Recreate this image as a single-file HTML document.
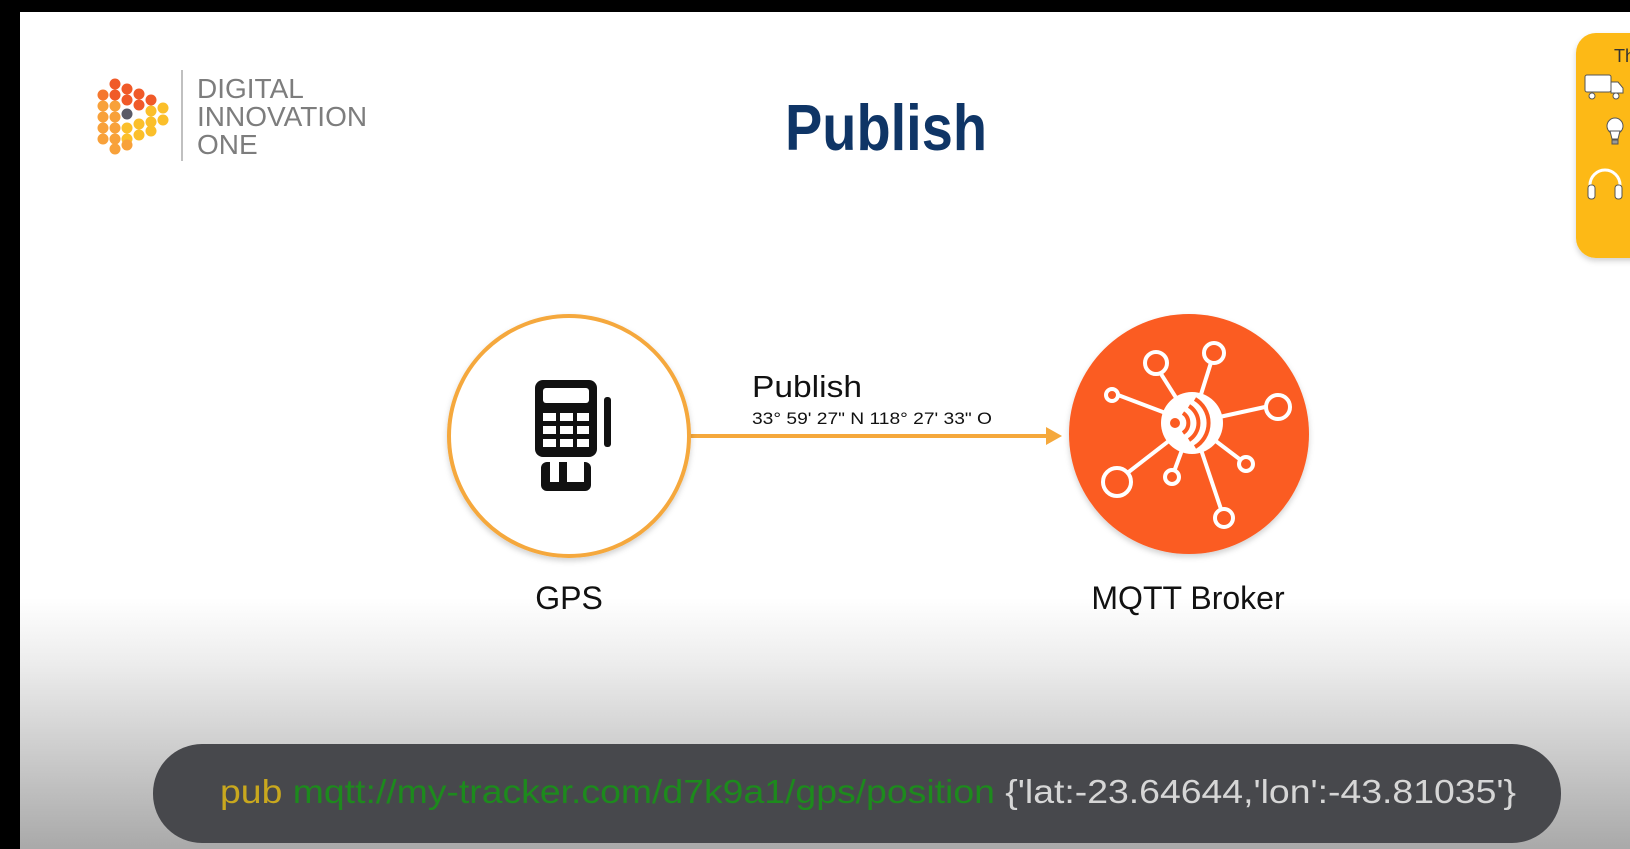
<!DOCTYPE html>
<html><head><meta charset="utf-8"><style>
html,body{margin:0;padding:0;width:1630px;height:849px;overflow:hidden;background:#000}
svg{display:block}
text{font-family:"Liberation Sans",sans-serif}
</style></head><body>
<svg width="1630" height="849" viewBox="0 0 1630 849" xmlns="http://www.w3.org/2000/svg">
<defs>
<linearGradient id="bg" x1="0" y1="0" x2="0" y2="1">
<stop offset="0" stop-color="#ffffff"/>
<stop offset="0.7" stop-color="#ffffff"/>
<stop offset="0.78" stop-color="#ececec"/>
<stop offset="1" stop-color="#a9a9a9"/>
</linearGradient>
<filter id="sh" x="-20%" y="-20%" width="140%" height="140%"><feDropShadow dx="0" dy="3" stdDeviation="3" flood-color="#000" flood-opacity="0.18"/></filter>
</defs>
<rect x="20" y="12" width="1610" height="837" fill="url(#bg)"/>
<g>
<circle cx="103" cy="95" r="5.5" fill="#f5772e"/><circle cx="103" cy="106" r="5.5" fill="#f8a13a"/><circle cx="103" cy="117" r="5.5" fill="#f8a13a"/><circle cx="103" cy="128" r="5.5" fill="#f8a13a"/><circle cx="103" cy="139" r="5.5" fill="#f8a13a"/>
<circle cx="115" cy="84" r="5.5" fill="#f05a28"/><circle cx="115" cy="95" r="5.5" fill="#f05a28"/><circle cx="115" cy="106" r="5.5" fill="#f8a13a"/><circle cx="115" cy="117" r="5.5" fill="#f8a13a"/><circle cx="115" cy="128" r="5.5" fill="#f8a13a"/><circle cx="115" cy="139" r="5.5" fill="#f8a13a"/><circle cx="115" cy="149" r="5.5" fill="#f8a13a"/>
<circle cx="127" cy="89" r="5.5" fill="#f05a28"/><circle cx="127" cy="100" r="5.5" fill="#f05a28"/><circle cx="127" cy="114" r="5.5" fill="#5a5a66"/><circle cx="127" cy="128" r="5.5" fill="#fbbf2a"/><circle cx="127" cy="139" r="5.5" fill="#fbbf2a"/><circle cx="127" cy="145" r="5.5" fill="#f8a13a"/>
<circle cx="139" cy="94" r="5.5" fill="#f05a28"/><circle cx="139" cy="105" r="5.5" fill="#f05a28"/><circle cx="139" cy="124" r="5.5" fill="#fbbf2a"/><circle cx="139" cy="135" r="5.5" fill="#fbbf2a"/>
<circle cx="151" cy="100" r="5.5" fill="#f05a28"/><circle cx="151" cy="111" r="5.5" fill="#fbbf2a"/><circle cx="151" cy="122" r="5.5" fill="#fbbf2a"/><circle cx="151" cy="131" r="5.5" fill="#fbbf2a"/>
<circle cx="163" cy="108" r="5.5" fill="#fbbf2a"/><circle cx="163" cy="120" r="5.5" fill="#fbbf2a"/>
</g>
<line x1="182" y1="70" x2="182" y2="161" stroke="#aaa" stroke-width="1.5"/>
<g fill="#7d7d7d" font-size="28">
<text x="197" y="98">DIGITAL</text>
<text x="197" y="126">INNOVATION</text>
<text x="197" y="154">ONE</text>
</g>
<text x="785" y="150" font-size="65" font-weight="bold" fill="#0f3566" textLength="202" lengthAdjust="spacingAndGlyphs">Publish</text>
<rect x="1576" y="33" width="80" height="225" rx="20" fill="#fdb913" filter="url(#sh)"/>
<text x="1614" y="62" font-size="18" fill="#333">Th</text>
<g fill="#fff" stroke="#555" stroke-width="1">
<rect x="1585" y="75" width="26" height="17" rx="2"/><path d="M1611 82h7l5 6v5h-12z"/>
<circle cx="1592" cy="96" r="3"/><circle cx="1616" cy="96" r="3"/>
<circle cx="1615" cy="126" r="8"/><path d="M1610 131h10l-2 8h-6z"/><rect x="1612" y="140" width="6" height="4" fill="#999"/>
<path d="M1590 195v-10a15 15 0 0 1 30 0v10" fill="none" stroke="#fff" stroke-width="3"/>
<rect x="1588" y="185" width="7" height="14" rx="3"/><rect x="1615" y="185" width="7" height="14" rx="3"/>
</g>
<line x1="690" y1="436" x2="1052" y2="436" stroke="#f5a83c" stroke-width="4"/>
<path d="M1046 427 L1062 436 L1046 445 Z" fill="#f5a83c"/>
<text x="752" y="397" font-size="31" fill="#111" textLength="110" lengthAdjust="spacingAndGlyphs">Publish</text>
<text x="752" y="424" font-size="17" fill="#111" textLength="240" lengthAdjust="spacingAndGlyphs">33° 59' 27" N 118° 27' 33" O</text>
<circle cx="569" cy="436" r="120" fill="#fff" stroke="#f5a83c" stroke-width="4" filter="url(#sh)"/>
<g fill="#111">
<rect x="535" y="380" width="62" height="77" rx="8"/>
<rect x="604" y="397" width="7" height="50" rx="3"/>
<rect x="541" y="462" width="50" height="29" rx="6"/>
</g>
<g fill="#fff">
<rect x="543" y="388" width="46" height="15" rx="3"/>
<rect x="543" y="413" width="13" height="8"/><rect x="560" y="413" width="13" height="8"/><rect x="577" y="413" width="12" height="8"/>
<rect x="543" y="426" width="13" height="8"/><rect x="560" y="426" width="13" height="8"/><rect x="577" y="426" width="12" height="8"/>
<rect x="543" y="439" width="13" height="8"/><rect x="560" y="439" width="13" height="8"/><rect x="577" y="439" width="12" height="8"/>
<rect x="550" y="460" width="9" height="22"/><rect x="567" y="460" width="17" height="22"/>
</g>
<text x="569" y="609" font-size="32" fill="#111" text-anchor="middle">GPS</text>
<circle cx="1189" cy="434" r="120" fill="#fb5b22" filter="url(#sh)"/>
<g stroke="#fff" stroke-width="4" fill="none">
<line x1="1192" y1="423" x2="1156" y2="366"/><line x1="1192" y1="423" x2="1214" y2="353"/>
<line x1="1192" y1="423" x2="1118" y2="395"/><line x1="1192" y1="423" x2="1265" y2="407"/>
<line x1="1192" y1="423" x2="1117" y2="481"/><line x1="1192" y1="423" x2="1172" y2="477"/>
<line x1="1192" y1="423" x2="1246" y2="464"/><line x1="1192" y1="423" x2="1224" y2="518"/>
<circle cx="1156" cy="363" r="11" fill="#fb5b22"/><circle cx="1214" cy="353" r="10" fill="#fb5b22"/>
<circle cx="1112" cy="395" r="6" fill="#fb5b22"/><circle cx="1278" cy="407" r="12" fill="#fb5b22"/>
<circle cx="1117" cy="482" r="14" fill="#fb5b22"/><circle cx="1172" cy="477" r="7" fill="#fb5b22"/>
<circle cx="1246" cy="464" r="7" fill="#fb5b22"/><circle cx="1224" cy="518" r="9" fill="#fb5b22"/>
</g>
<circle cx="1192" cy="423" r="31" fill="#fff"/>
<g stroke="#fb5b22" stroke-width="4" fill="none">
<circle cx="1175" cy="423" r="3" fill="#fb5b22"/>
<path d="M1183 413a12 12 0 0 1 0 20"/><path d="M1189 406a20 20 0 0 1 0 34"/><path d="M1195 399a28 28 0 0 1 0 48"/>
</g>
<text x="1188" y="609" font-size="32" fill="#111" text-anchor="middle">MQTT Broker</text>
<rect x="153" y="744" width="1408" height="99" rx="49" fill="#47484c"/>
<text x="220" y="803" font-size="33" textLength="1296" lengthAdjust="spacingAndGlyphs"><tspan fill="#c9a81e">pub </tspan><tspan fill="#1d8a1d">mqtt://my-tracker.com/d7k9a1/gps/position </tspan><tspan fill="#d6d6d6">{'lat:-23.64644,'lon':-43.81035'}</tspan></text>
<rect x="0" y="0" width="1630" height="12" fill="#000"/>
<rect x="0" y="0" width="20" height="849" fill="#000"/>
</svg>
</body></html>
